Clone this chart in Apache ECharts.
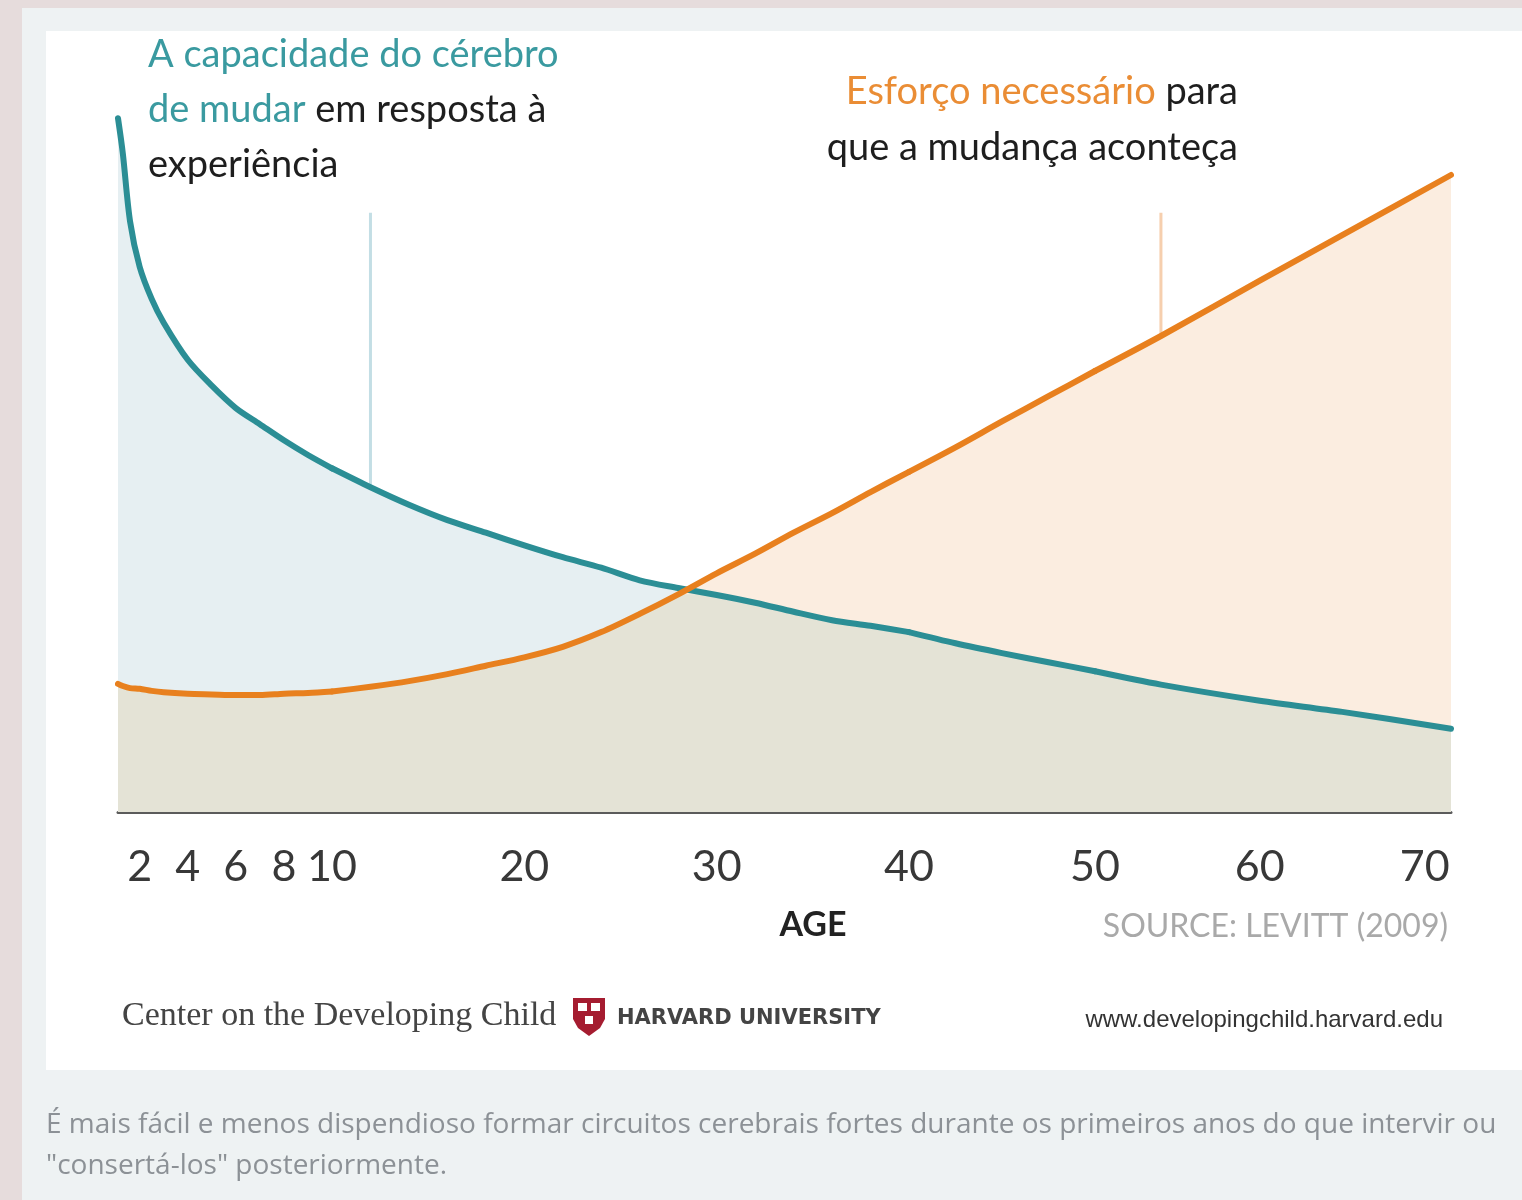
<!DOCTYPE html>
<html>
<head>
<meta charset="utf-8">
<title>Plasticidade x esforço</title>
<script src="https://cdn.jsdelivr.net/npm/echarts@6/dist/echarts.min.js"></script>
<style>
  html, body { margin: 0; padding: 0; background: #e6dcdc; }
  #chart { width: 1522px; height: 1200px; }
</style>
</head>
<body>
<div id="chart"></div>
<script>
// idades (eixo x) e valores (0 = linha de base, 100 = topo)
var ages = [1.1, 1.3, 1.6, 2, 2.5, 3, 4, 5, 6, 7, 8, 9, 10, 12, 14, 16, 18, 20, 22, 24, 26, 28, 30, 32, 34, 36, 38, 40, 42.5, 45, 47.5, 50, 54, 60, 65, 71.6];
// capacidade do cérebro de mudar
var plasticity = [99.1, 94.1, 84.4, 77.9, 73.3, 69.9, 64.6, 60.9, 57.7, 55.4, 53.1, 51.0, 49.1, 46.4, 43.9, 41.7, 39.9, 38.1, 36.4, 34.9, 33.1, 32.0, 31.0, 29.9, 28.6, 27.4, 26.6, 25.7, 24.1, 22.7, 21.4, 20.1, 18.2, 15.9, 14.3, 11.9];
// esforço necessário
var effort = [18.3, 18.0, 17.7, 17.6, 17.3, 17.1, 16.9, 16.8, 16.7, 16.7, 16.9, 17.0, 17.2, 17.9, 18.7, 19.7, 20.9, 22.1, 23.6, 25.7, 28.3, 31.1, 34.1, 36.9, 39.9, 42.7, 45.7, 48.6, 52.1, 55.8, 59.4, 63.0, 68.0, 75.9, 82.4, 91.0];
var tickAges = [2, 4, 6, 8, 10, 20, 30, 40, 50, 60, 70];
// linhas verticais finas (idade, topo)
var markerAges = [12, 54];
var markerTop = 85.6;

// o eixo da figura não é linear: cada trecho tem sua própria escala
var segBreaks = [1.1, 10, 40, 50, 71.6];
var segEdges = [118, 332, 909, 1095, 1451];

var TEAL = '#2b8e95', ORANGE = '#e8801e';
var chart = echarts.init(document.getElementById('chart'));

var grids = [], xAxes = [], yAxes = [], series = [];
for (var k = 0; k < segBreaks.length - 1; k++) {
  var lo = segBreaks[k], hi = segBreaks[k + 1];
  grids.push({ left: segEdges[k], width: segEdges[k + 1] - segEdges[k], top: 112, height: 700 });
  var ticks = tickAges.filter(function (t) { return (k === 0 ? t >= lo : t > lo) && t <= hi; });
  xAxes.push({
    type: 'value', gridIndex: k, min: lo, max: hi,
    axisLine: { show: true, lineStyle: { color: '#5b5b5b', width: 3 } },
    axisTick: { show: false },
    splitLine: { show: false },
    axisLabel: {
      customValues: ticks, showMinLabel: true, showMaxLabel: true,
      margin: 34, color: '#383838', fontSize: 43, fontFamily: 'Lato'
    }
  });
  yAxes.push({ type: 'value', gridIndex: k, min: 0, max: 100, show: false });

  var pl = [], ef = [], both = [];
  for (var i = 0; i < ages.length; i++) {
    if (ages[i] >= lo && ages[i] <= hi) {
      pl.push([ages[i], plasticity[i]]);
      ef.push([ages[i], effort[i]]);
      both.push([ages[i], Math.min(plasticity[i], effort[i])]);
    }
  }
  var base = { type: 'line', xAxisIndex: k, yAxisIndex: k, showSymbol: false, silent: true, smooth: 0.3 };
  series.push(Object.assign({}, base, { data: pl, z: 1, lineStyle: { width: 0 },
    areaStyle: { color: '#e6eff2', opacity: 1 } }));
  series.push(Object.assign({}, base, { data: ef, z: 1, lineStyle: { width: 0 },
    areaStyle: { color: '#fbede0', opacity: 1 } }));
  series.push(Object.assign({}, base, { data: both, z: 1, lineStyle: { width: 0 },
    areaStyle: { color: '#e4e3d6', opacity: 1 } }));
  series.push(Object.assign({}, base, { data: pl, z: 4,
    lineStyle: { width: 6, color: TEAL, cap: 'round', join: 'round' } }));
  series.push(Object.assign({}, base, { data: ef, z: 5,
    lineStyle: { width: 6, color: ORANGE, cap: 'round', join: 'round' } }));

  markerAges.forEach(function (a, m) {
    if (a > lo && a < hi) {
      var idx = ages.indexOf(a);
      var bottom = m === 0 ? plasticity[idx] : effort[idx];
      series.push({ type: 'line', xAxisIndex: k, yAxisIndex: k, showSymbol: false, silent: true, z: 3,
        data: [[a, markerTop], [a, bottom]],
        lineStyle: { width: 3, color: m === 0 ? '#c3dee5' : '#f6cfae' } });
    }
  });
}

var titleFont = 'Lato';
function rich(color, size, lh) {
  return { color: color, fontSize: size, fontFamily: titleFont, fontWeight: 'normal', lineHeight: lh };
}
chart.setOption({
  animation: false,
  backgroundColor: '#e6dcdc',
  grid: grids,
  xAxis: xAxes,
  yAxis: yAxes,
  series: series,
  title: [
    {
      left: 148, top: 27, padding: 0,
      text: '{t|A capacidade do cérebro}\n{t|de mudar }{k|em resposta à}\n{k|experiência}',
      textStyle: { fontWeight: 'normal', rich: { t: rich('#3a9aa0', 38, 55), k: rich('#1e1e1e', 38, 55) } }
    },
    {
      right: 284, top: 64, padding: 0,
      text: '{o|Esforço necessário }{k|para}',
      textStyle: { fontWeight: 'normal', rich: { o: rich('#ea8d35', 38, 56), k: rich('#1e1e1e', 38, 56) } }
    },
    {
      right: 284, top: 120, padding: 0,
      text: '{k|que a mudança aconteça}',
      textStyle: { fontWeight: 'normal', rich: { k: rich('#1e1e1e', 38, 56) } }
    },
    {
      left: 813, top: 906, padding: 0, textAlign: 'center', text: 'AGE',
      textStyle: { color: '#222', fontSize: 34, fontWeight: 'bold', fontFamily: titleFont, lineHeight: 38 }
    },
    {
      right: 74, top: 909, padding: 0, text: 'SOURCE: LEVITT (2009)',
      textStyle: { color: '#a9a9a9', fontSize: 32, fontWeight: 'normal', fontFamily: titleFont, lineHeight: 36 }
    },
    {
      left: 122, top: 996, padding: 0, text: 'Center on the Developing Child',
      textStyle: { color: '#444', fontSize: 34, fontWeight: 'normal', fontFamily: 'Liberation Serif', lineHeight: 40 }
    },
    {
      left: 617, top: 1007, padding: 0, text: 'HARVARD UNIVERSITY',
      textStyle: { color: '#444', fontSize: 21, fontWeight: 'bold', fontFamily: 'DejaVu Sans', lineHeight: 24 }
    },
    {
      right: 79, top: 1006, padding: 0, text: 'www.developingchild.harvard.edu',
      textStyle: { color: '#333', fontSize: 24, fontWeight: 'normal', fontFamily: 'Liberation Sans', lineHeight: 28 }
    },
    {
      left: 46, top: 1105, padding: 0,
      text: 'É mais fácil e menos dispendioso formar circuitos cerebrais fortes durante os primeiros anos do que intervir ou\n"consertá-los" posteriormente.',
      textStyle: { color: '#8c9196', fontSize: 28, fontWeight: 'normal', fontFamily: 'Open Sans', lineHeight: 41 }
    }
  ],
  graphic: [
    { type: 'rect', z: -10, silent: true, shape: { x: 22, y: 8, width: 1500, height: 1192 }, style: { fill: '#eef2f3' } },
    { type: 'rect', z: -9, silent: true, shape: { x: 46, y: 31, width: 1476, height: 1039 }, style: { fill: '#ffffff' } },
    // escudo de Harvard
    { type: 'polygon', z: 10, silent: true,
      shape: { points: [[573, 998], [605, 998], [605, 1019], [600, 1028], [589, 1036], [578, 1028], [573, 1019]] },
      style: { fill: '#a51c30' } },
    { type: 'rect', z: 11, silent: true, shape: { x: 578, y: 1003, width: 9, height: 8 }, style: { fill: '#ffffff' } },
    { type: 'rect', z: 11, silent: true, shape: { x: 591, y: 1003, width: 9, height: 8 }, style: { fill: '#ffffff' } },
    { type: 'rect', z: 11, silent: true, shape: { x: 585, y: 1016, width: 8, height: 8 }, style: { fill: '#ffffff' } }
  ]
});
</script>
</body>
</html>
